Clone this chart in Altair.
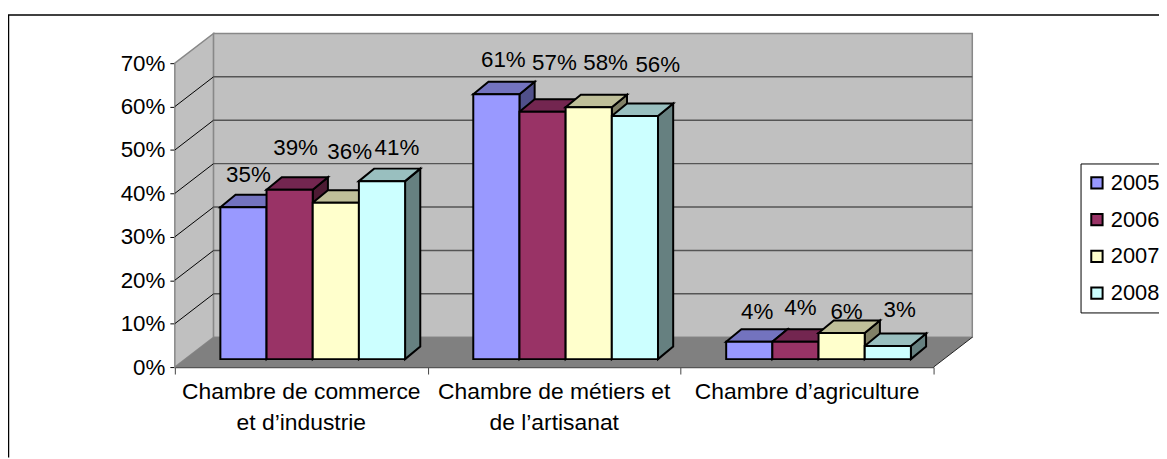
import altair as alt
import pandas as pd

categories = ["Chambre de commerce\net d’industrie", "Chambre de métiers et\nde l’artisanat", "Chambre d’agriculture"]
years = ["2005", "2006", "2007", "2008"]
v2005 = [35, 61, 4]
v2006 = [39, 57, 4]
v2007 = [36, 58, 6]
v2008 = [41, 56, 3]
series = [v2005, v2006, v2007, v2008]
y_ticks = [0, 10, 20, 30, 40, 50, 60, 70]

front = ["#9999FF", "#993366", "#FFFFCC", "#CCFFFF"]
top = ["#7373BF", "#732650", "#BFBF99", "#99BFBF"]
side = ["#50508A", "#4D1A33", "#808066", "#668080"]

# placement of the hand-moved data labels, in px from the bar's front centre / top
label_dx = [[5, 6, 14, 15], [7, 12, 17, 23], [8, 5, 5, 12]]
label_dy = [[32, 42.5, 51, 33], [34, 49, 44.5, 51], [29.5, 33.5, 21, 36]]

PW, PH = 764, 306
UX = PW / 3.0      # px per category
UY = PH / 70.0     # px per percent
wall_dx, wall_dy = 39 / UX, 30 / UY
bar_dx, bar_dy = 15.3 / UX, 12.6 / UY
base = 8 / UY
bar_w = 46.5 / UX
start = 0.18

x_scale = alt.Scale(domain=[0, 3], nice=False, zero=False)
y_scale = alt.Scale(domain=[0, 70], nice=False, zero=False)


def poly(rows, pid, pts, fill):
    for i, (x, y, y2) in enumerate(pts):
        rows.append(dict(id=pid, x=x, y=y, y2=y2, fill=fill))


wall_rows = []
poly(wall_rows, "a", [(0, 0, 70), (wall_dx, wall_dy, 70 + wall_dy)], "#C0C0C0")
poly(wall_rows, "b", [(wall_dx, wall_dy, 70 + wall_dy), (3 + wall_dx, wall_dy, 70 + wall_dy)], "#C0C0C0")
floor_rows = []
poly(floor_rows, "c", [(0, 0, 0), (wall_dx, wall_dy, 0), (3, wall_dy, 0), (3 + wall_dx, wall_dy, wall_dy)], "#808080")

diag_rows, back_rows = [], []
for t in y_ticks[1:-1]:
    diag_rows += [dict(t=t, x=0, y=t), dict(t=t, x=wall_dx, y=t + wall_dy)]
    back_rows += [dict(t=t, x=wall_dx, y=t + wall_dy), dict(t=t, x=3 + wall_dx, y=t + wall_dy)]
edge_rows = [dict(t=0, x=3, y=0), dict(t=0, x=3 + wall_dx, y=wall_dy)]

face_rows, front_rows, label_rows = [], [], []
for c in range(3):
    for s in range(4):
        v = series[s][c]
        x0 = c + start + s * bar_w
        x1 = x0 + bar_w
        yt = base + v
        poly(face_rows, f"{c}{s}s", [(x1, base, yt), (x1 + bar_dx, base + bar_dy, yt + bar_dy)], side[s])
        poly(face_rows, f"{c}{s}t", [(x0, yt, yt), (x0 + bar_dx, yt + bar_dy, yt),
                                     (x1, yt + bar_dy, yt), (x1 + bar_dx, yt + bar_dy, yt + bar_dy)], top[s])
        front_rows.append(dict(year=years[s], x=x0, x2=x1, y=base, y2=yt))
        label_rows.append(dict(x=(x0 + x1) / 2 + label_dx[c][s] / UX, y=yt + label_dy[c][s] / UY, t=f"{v}%"))

cat_rows = [dict(x=i + 0.5, y=0, t=c) for i, c in enumerate(categories)]

FONT = "Liberation Sans"

x_axis = alt.Axis(values=[0, 1, 2, 3], labels=False, title=None, grid=False, tickColor="#444444",
                  domainColor="#555555", tickSize=7, domainWidth=1.5, tickWidth=1)
y_axis = alt.Axis(values=y_ticks, title=None, grid=False, labelExpr="datum.value + '%'", labelFont=FONT,
                  labelFontSize=22.5, labelColor="black", tickColor="black", tickSize=5, domainColor="#555555",
                  labelPadding=5, labelFlush=False, labelOverlap=False)

walls = alt.Chart(pd.DataFrame(wall_rows)).mark_area(orient="vertical", stroke="#888888", strokeWidth=1.5).encode(
    x=alt.X("x:Q", scale=x_scale, axis=x_axis),
    y=alt.Y("y:Q", scale=y_scale, axis=y_axis, stack=None),
    y2="y2:Q",
    fill=alt.Fill("fill:N", scale=None),
    detail="id:N",
)
diag = alt.Chart(pd.DataFrame(diag_rows)).mark_line(color="black", strokeWidth=1).encode(
    x="x:Q", y="y:Q", detail="t:N")
back = alt.Chart(pd.DataFrame(back_rows)).mark_line(color="#555555", strokeWidth=1.5).encode(
    x="x:Q", y="y:Q", detail="t:N")
floor = alt.Chart(pd.DataFrame(floor_rows)).mark_area(orient="vertical").encode(
    x="x:Q", y=alt.Y("y:Q", stack=None), y2="y2:Q", fill=alt.Fill("fill:N", scale=None), detail="id:N")
edge = alt.Chart(pd.DataFrame(edge_rows)).mark_line(color="#222222", strokeWidth=1).encode(
    x="x:Q", y="y:Q", detail="t:N")
faces = alt.Chart(pd.DataFrame(face_rows)).mark_area(orient="vertical", stroke="black", strokeWidth=2).encode(
    x="x:Q", y=alt.Y("y:Q", stack=None), y2="y2:Q", fill=alt.Fill("fill:N", scale=None), detail="id:N")
fronts = alt.Chart(pd.DataFrame(front_rows)).mark_rect(stroke="black", strokeWidth=2).encode(
    x="x:Q", x2="x2:Q", y="y:Q", y2="y2:Q",
    color=alt.Color("year:N", scale=alt.Scale(domain=years, range=front),
                    legend=alt.Legend(orient="none", legendX=912, legendY=101, title=None, fillColor="white",
                                      strokeColor="black", padding=8.5, rowPadding=15, symbolType="square",
                                      symbolSize=130, symbolStrokeColor="black", symbolStrokeWidth=2,
                                      symbolOffset=-3,
                                      labelFont=FONT, labelFontSize=22, labelColor="black", labelLimit=200,
                                      labelOffset=3)),
)
labels = alt.Chart(pd.DataFrame(label_rows)).mark_text(font=FONT, fontSize=22.5, color="black").encode(
    x="x:Q", y="y:Q", text="t:N")
cats = alt.Chart(pd.DataFrame(cat_rows)).mark_text(font=FONT, fontSize=23, color="black", baseline="top", dy=14,
                                                   lineBreak="\n", lineHeight=31).encode(
    x="x:Q", y="y:Q", text="t:N")
frame_left = alt.Chart(pd.DataFrame({"k": [0]})).mark_rule(color="black", strokeWidth=1.5).encode(
    x=alt.value(-167.5), y=alt.value(-48.5), y2=alt.value(397))
frame_top = alt.Chart(pd.DataFrame({"k": [0]})).mark_rule(color="black", strokeWidth=1.5).encode(
    x=alt.value(-168), x2=alt.value(991), y=alt.value(-48.5))

chart = alt.layer(walls, diag, back, floor, edge, faces, fronts, labels, cats, frame_left, frame_top).properties(
    width=PW, height=PH,
    autosize=alt.AutoSizeParams(type="none"),
    padding={"left": 168, "top": 54, "right": 227, "bottom": 91},
    background="white",
).configure_view(stroke=None)

chart.save("out.html", embed_options={"renderer": "svg", "actions": False})
